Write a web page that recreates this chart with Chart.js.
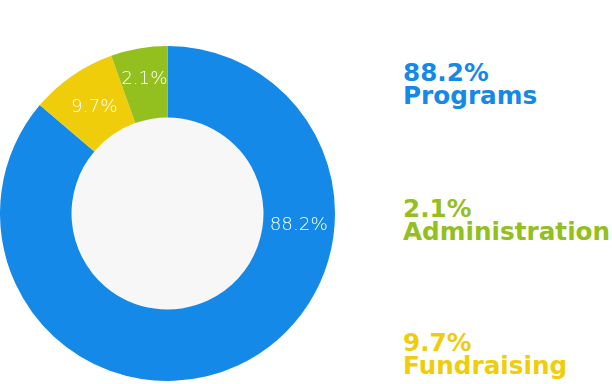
<!DOCTYPE html>
<html>
<head>
<meta charset="utf-8">
<script src="https://cdn.jsdelivr.net/npm/chart.js@4/dist/chart.umd.min.js"></script>
<style>
  html, body { margin: 0; padding: 0; background: #ffffff; width: 612px; height: 384px; overflow: hidden; }
  #wrap { position: absolute; left: 0; top: 46px; width: 335px; height: 335px; }
  .leg { position: absolute; left: 403px; font-family: "DejaVu Sans", sans-serif; font-weight: bold;
         font-size: 24.7px; line-height: 23px; white-space: nowrap; }
</style>
</head>
<body>
<div id="wrap"><canvas id="c"></canvas></div>
<div id="legend"></div>
<script>
// Data (order drawn clockwise from 12 o'clock)
const categories = ["Programs", "Fundraising", "Administration"];
const sliceValues = [86.2, 8.35, 5.45];          // slice sizes as drawn in the picture
const percentLabels = ["88.2%", "9.7%", "2.1%"]; // percentages printed in the picture
const sliceColors = ["#1589e8", "#f0cd0b", "#93bf1f"];

// Legend on the right (Programs, Administration, Fundraising from top to bottom)
const legendOrder = [0, 2, 1];
const legendTops = [61, 197, 331];
const legend = document.getElementById('legend');
legendOrder.forEach((idx, i) => {
  const d = document.createElement('div');
  d.className = 'leg';
  d.style.top = legendTops[i] + 'px';
  d.style.color = sliceColors[idx];
  d.innerHTML = percentLabels[idx] + '<br>' + categories[idx];
  legend.appendChild(d);
});

const innerFill = {
  id: 'innerFill',
  beforeDatasetsDraw(chart) {
    const arc = chart.getDatasetMeta(0).data[0];
    if (!arc) return;
    const { x, y, innerRadius } = arc.getProps(['x', 'y', 'innerRadius'], true);
    const ctx = chart.ctx;
    ctx.save();
    ctx.beginPath();
    ctx.arc(x, y, innerRadius, 0, Math.PI * 2);
    ctx.fillStyle = '#f7f7f7';
    ctx.fill();
    ctx.restore();
  }
};

const sliceLabels = {
  id: 'sliceLabels',
  afterDatasetsDraw(chart, args, opts) {
    const ctx = chart.ctx;
    const meta = chart.getDatasetMeta(0);
    ctx.save();
    ctx.fillStyle = '#ffffff';
    ctx.font = '200 18.3px "DejaVu Sans", sans-serif';
    ctx.textAlign = 'center';
    ctx.textBaseline = 'middle';
    meta.data.forEach((arc, i) => {
      const p = arc.getProps(['x', 'y', 'startAngle', 'endAngle', 'innerRadius', 'outerRadius'], true);
      const ang = opts.angles[i] != null ? (opts.angles[i] - 90) * Math.PI / 180 : (p.startAngle + p.endAngle) / 2;
      const r = (p.innerRadius + p.outerRadius) / 2 + (opts.radOffset[i] || 0);
      ctx.fillText(percentLabels[i], p.x + Math.cos(ang) * r, p.y + Math.sin(ang) * r);
    });
    ctx.restore();
  }
};

new Chart(document.getElementById('c'), {
  type: 'doughnut',
  data: {
    labels: categories,
    datasets: [{
      data: sliceValues,
      backgroundColor: sliceColors,
      borderWidth: 0,
      hoverOffset: 0
    }]
  },
  options: {
    responsive: true,
    maintainAspectRatio: false,
    animation: false,
    cutout: '57.3%',
    layout: { padding: 0 },
    plugins: {
      legend: { display: false },
      tooltip: { enabled: false },
      sliceLabels: { angles: [95, null, null], radOffset: [0, -3, 4] }
    }
  },
  plugins: [innerFill, sliceLabels]
});
</script>
</body>
</html>
